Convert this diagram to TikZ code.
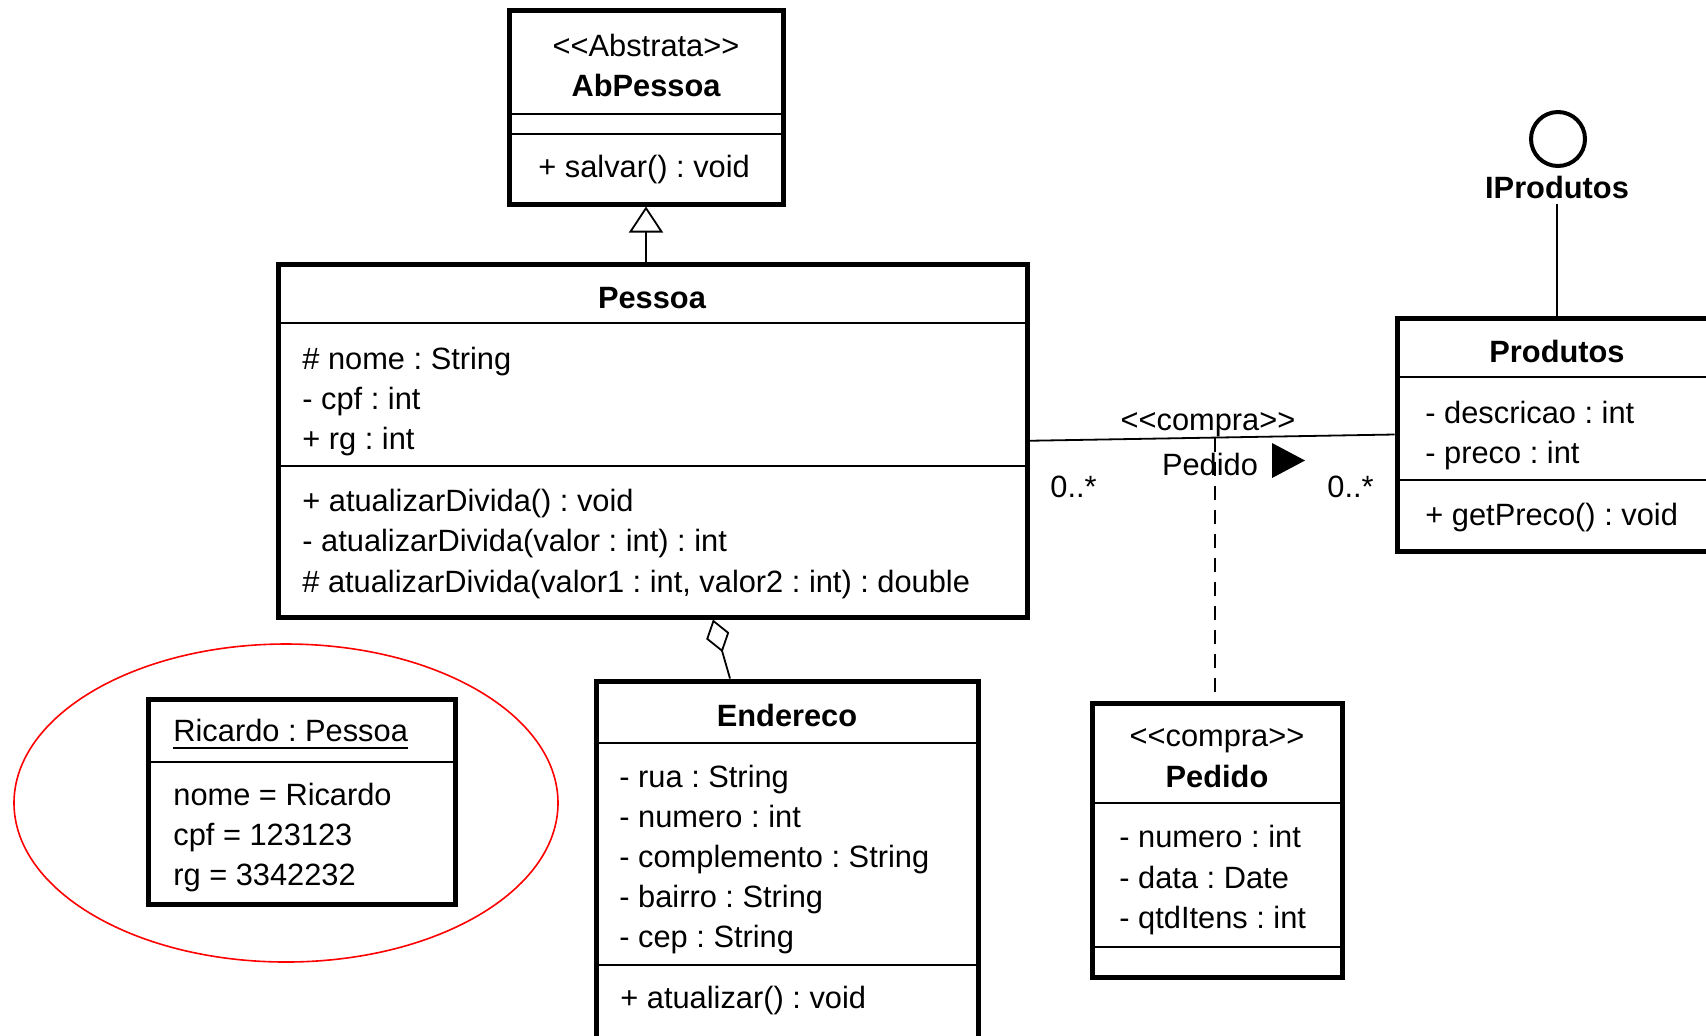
\documentclass[tikz,border=0pt]{standalone}
\usepackage{fontspec}
\setmainfont{Liberation Sans}[Ligatures=TeXOff]
\usetikzlibrary{arrows.meta,fit,calc}

\newcommand\umlfont{\frenchspacing\fontsize{15.4pt}{18pt}\selectfont}

\tikzset{
  cls/.style={draw, line width=2.5pt, inner sep=0pt, fill=white},
  sep/.style={line width=0.9pt},
  conn/.style={line width=0.9pt},
  txt/.style={anchor=base west, inner sep=0pt, font=\umlfont},
  ttl/.style={anchor=base, inner sep=0pt, font=\umlfont},
  bttl/.style={anchor=base, inner sep=0pt, font=\umlfont\bfseries},
  inherit/.style={conn, -{Triangle[open, length=13pt, width=17pt, fill=white]}},
  aggreg/.style={conn, -{Diamond[open, length=17pt, width=12pt, fill=white]}},
}

\begin{document}
\begin{tikzpicture}[x=0.5pt, y=-0.5pt]
  \useasboundingbox (0,0) rectangle (1706,1035);
  \fill[white] (0,0) rectangle (1706,1035);
  \clip (0,0) rectangle (1706,1035);

  % ---------- class boxes ----------
  \node[cls, fit={(509,10) (783,204)}] (abp) {};
  \node[cls, fit={(278,264.5) (1027,617)}] (pes) {};
  \node[cls, fit={(1397,318) (1717,551)}] (pro) {};
  \node[cls, fit={(596,681) (978,1060)}] (end) {};
  \node[cls, fit={(1092,703) (1342,977)}] (ped) {};
  \node[cls, fit={(148,699) (455,904)}] (ric) {};

  % compartment separators
  \draw[sep] (509,114) -- (783,114);
  \draw[sep] (509,134) -- (783,134);
  \draw[sep] (278,323) -- (1027,323);
  \draw[sep] (278,466) -- (1027,466);
  \draw[sep] (1397,377) -- (1717,377);
  \draw[sep] (1397,480) -- (1717,480);
  \draw[sep] (596,743) -- (978,743);
  \draw[sep] (596,965) -- (978,965);
  \draw[sep] (1092,803) -- (1342,803);
  \draw[sep] (1092,947) -- (1342,947);
  \draw[sep] (148,762) -- (455,762);

  % ---------- AbPessoa ----------
  \node[ttl]  (abpst) at (646,56)  {<<Abstrata>>};
  \node[bttl] (abpnm) at (646,96)  {AbPessoa};
  \node[txt]  (abpm1) at (538,177) {+ salvar() : void};

  % ---------- Pessoa ----------
  \node[bttl] (pesnm) at (652,308) {Pessoa};
  \node[txt]  (pesa1) at (302,369) {\# nome : String};
  \node[txt]  (pesa2) at (302,409) {- cpf : int};
  \node[txt]  (pesa3) at (302,449) {+ rg : int};
  \node[txt]  (pesm1) at (302,511) {+ atualizarDivida() : void};
  \node[txt]  (pesm2) at (302,551) {- atualizarDivida(valor : int) : int};
  \node[txt]  (pesm3) at (302,592) {\# atualizarDivida(valor1 : int, valor2 : int) : double};

  % ---------- Produtos ----------
  \node[bttl] (pronm) at (1557,362) {Produtos};
  \node[txt]  (proa1) at (1425,423) {- descricao : int};
  \node[txt]  (proa2) at (1425,463) {- preco : int};
  \node[txt]  (prom1) at (1425,525) {+ getPreco() : void};

  % ---------- Endereco ----------
  \node[bttl] (endnm) at (787,726)  {Endereco};
  \node[txt]  (enda1) at (619,787)  {- rua : String};
  \node[txt]  (enda2) at (619,827)  {- numero : int};
  \node[txt]  (enda3) at (619,867)  {- complemento : String};
  \node[txt]  (enda4) at (619,907)  {- bairro : String};
  \node[txt]  (enda5) at (619,947)  {- cep : String};
  \node[txt]  (endm1) at (620,1008) {+ atualizar() : void};

  % ---------- Pedido ----------
  \node[ttl]  (pedst) at (1217,746) {<<compra>>};
  \node[bttl] (pednm) at (1217,787) {Pedido};
  \node[txt]  (peda1) at (1119,847) {- numero : int};
  \node[txt]  (peda2) at (1119,888) {- data : Date};
  \node[txt]  (peda3) at (1119,928) {- qtdItens : int};

  % ---------- object Ricardo ----------
  \node[txt] (ricnm) at (173,741) {Ricardo : Pessoa};
  \draw[sep] ([yshift=-3.5pt]ricnm.base west) -- ([yshift=-3.5pt]ricnm.base east);
  \node[txt] (rica1) at (173,805) {nome = Ricardo};
  \node[txt] (rica2) at (173,845) {cpf = 123123};
  \node[txt] (rica3) at (173,885) {rg = 3342232};

  % highlight around the object
  \draw[red, line width=0.8pt] (286,803) ellipse [x radius=272, y radius=159];

  % ---------- interface IProdutos ----------
  \node[circle, draw, line width=2pt, minimum size=27pt, inner sep=0pt] (ifc) at (1558,139) {};
  \node[bttl, inner sep=2.5pt] (ifcnm) at (1557,198) {IProdutos};
  \draw[conn] (ifcnm.south) -- (ifcnm.south |- pro.north);

  % ---------- relations ----------
  \draw[inherit] (pes.north -| abp.south) -- (abp.south);
  \draw[aggreg] ([xshift=68.25pt]end.north west) -- ([xshift=218.75pt]pes.south west);

  \draw[conn] (pes.east) -- (pro.west) coordinate[pos=0.508] (asc);
  \draw[conn, dash pattern=on 7pt off 5pt] (asc) -- (asc |- ped.north);

  \node[ttl] (ascst) at (1208,430) {<<compra>>};
  \node[ttl] (ascnm) at (1210,475) {Pedido};
  \fill (1272,443) -- (1305,460.5) -- (1272,478) -- cycle;
  \node[txt] (mulL) at (1050,497) {0..*};
  \node[txt] (mulR) at (1327,497) {0..*};
\end{tikzpicture}
\end{document}
